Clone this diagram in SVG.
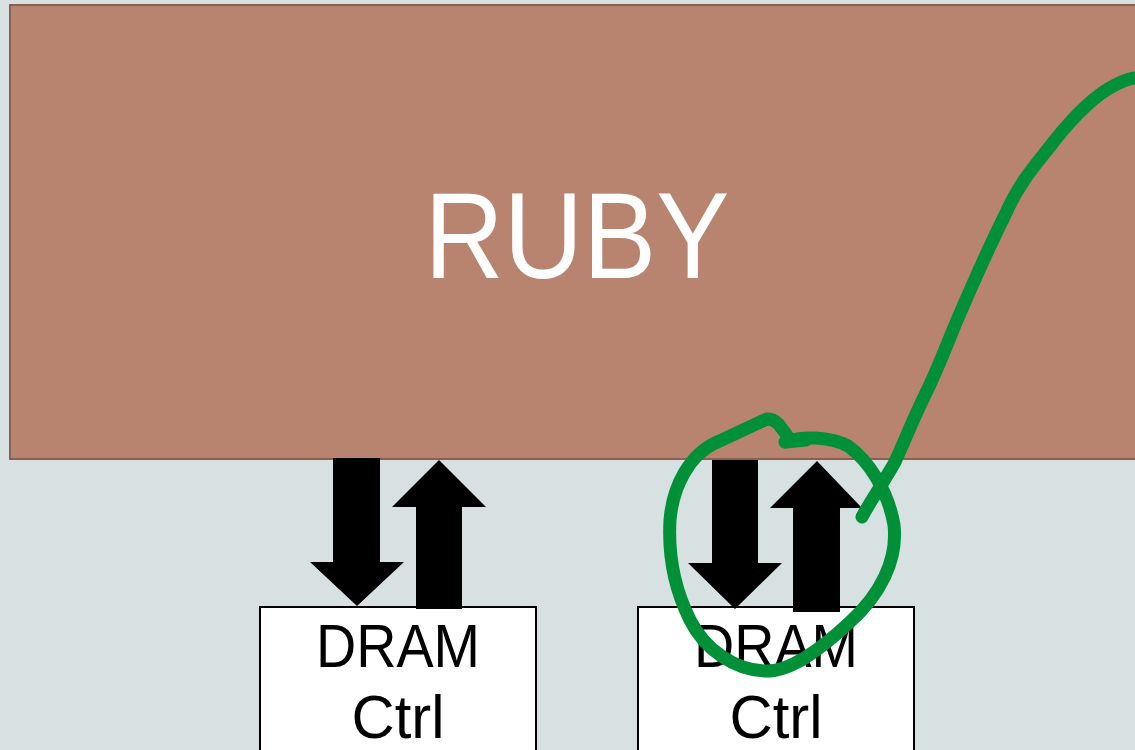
<svg xmlns="http://www.w3.org/2000/svg" width="1135" height="750" viewBox="0 0 1135 750">
  <style>
    .big { fill: #ffffff; font-family: "Liberation Sans", Arial, sans-serif; font-size: 122px; }
    .lbl { fill: #000000; font-family: "Liberation Sans", Arial, sans-serif; font-size: 62px; }
    .ctrl { fill: #ffffff; stroke: #000000; stroke-width: 2; }
    .arrow { fill: #000000; }
    .ink { fill: none; stroke: #009038; stroke-width: 13; stroke-linecap: round; stroke-linejoin: round; }
  </style>

  <rect x="0" y="0" width="1135" height="750" fill="#d8e1e2"/>

  <g id="ruby">
    <rect x="10" y="5" width="1140" height="454" fill="#b8846f" stroke="#8b5f52" stroke-width="2"/>
    <text class="big" x="577" y="278" text-anchor="middle" textLength="305" lengthAdjust="spacingAndGlyphs">RUBY</text>
  </g>

  <g id="dram-ctrl-1">
    <rect class="ctrl" x="260" y="607" width="276" height="160"/>
    <text class="lbl" x="398" y="667" text-anchor="middle" textLength="164" lengthAdjust="spacingAndGlyphs">DRAM</text>
    <text class="lbl" x="398" y="738" text-anchor="middle" textLength="93" lengthAdjust="spacingAndGlyphs">Ctrl</text>
  </g>

  <g id="dram-ctrl-2">
    <rect class="ctrl" x="638" y="607" width="276" height="160"/>
    <text class="lbl" x="776" y="667" text-anchor="middle" textLength="164" lengthAdjust="spacingAndGlyphs">DRAM</text>
    <text class="lbl" x="776" y="738" text-anchor="middle" textLength="93" lengthAdjust="spacingAndGlyphs">Ctrl</text>
  </g>

  <g id="connectors">
    <!-- left pair -->
    <polygon class="arrow" points="333,458 380,458 380,562 404,562 357,606 310,562 333,562"/>
    <polygon class="arrow" points="439,460 486,507 462,507 462,609 416,609 416,507 392,507"/>
    <!-- right pair -->
    <polygon class="arrow" points="712,460 758,460 758,563 782,563 735,609 688,563 712,563"/>
    <polygon class="arrow" points="817,461 862,508 840,508 840,612 793,612 793,508 770,508"/>
  </g>

  <g id="annotation">
    <!-- heavier dab where the pen first touched down -->
    <path class="ink" d="M786,442 L806,440" stroke-width="19"/>
    <path class="ink" d="M785,442 C800,436 830,436 848,446 C868,460 888,490 894,525 C898,560 880,595 850,622 C820,650 790,672 765,671 C735,670 705,650 690,620 C675,590 668,555 670,520 C673,485 690,455 715,443 C735,434 755,424 767,419 C775,418 780,425 790,440"/>
    <path class="ink" d="M862,517 C868,505 885,480 895,462 C905,440 915,415 925,395 C935,375 945,350 955,325 C970,290 990,245 1005,215 C1020,180 1040,160 1055,140 C1075,115 1095,95 1115,85 C1125,80 1130,78 1135,78"/>
  </g>
</svg>
